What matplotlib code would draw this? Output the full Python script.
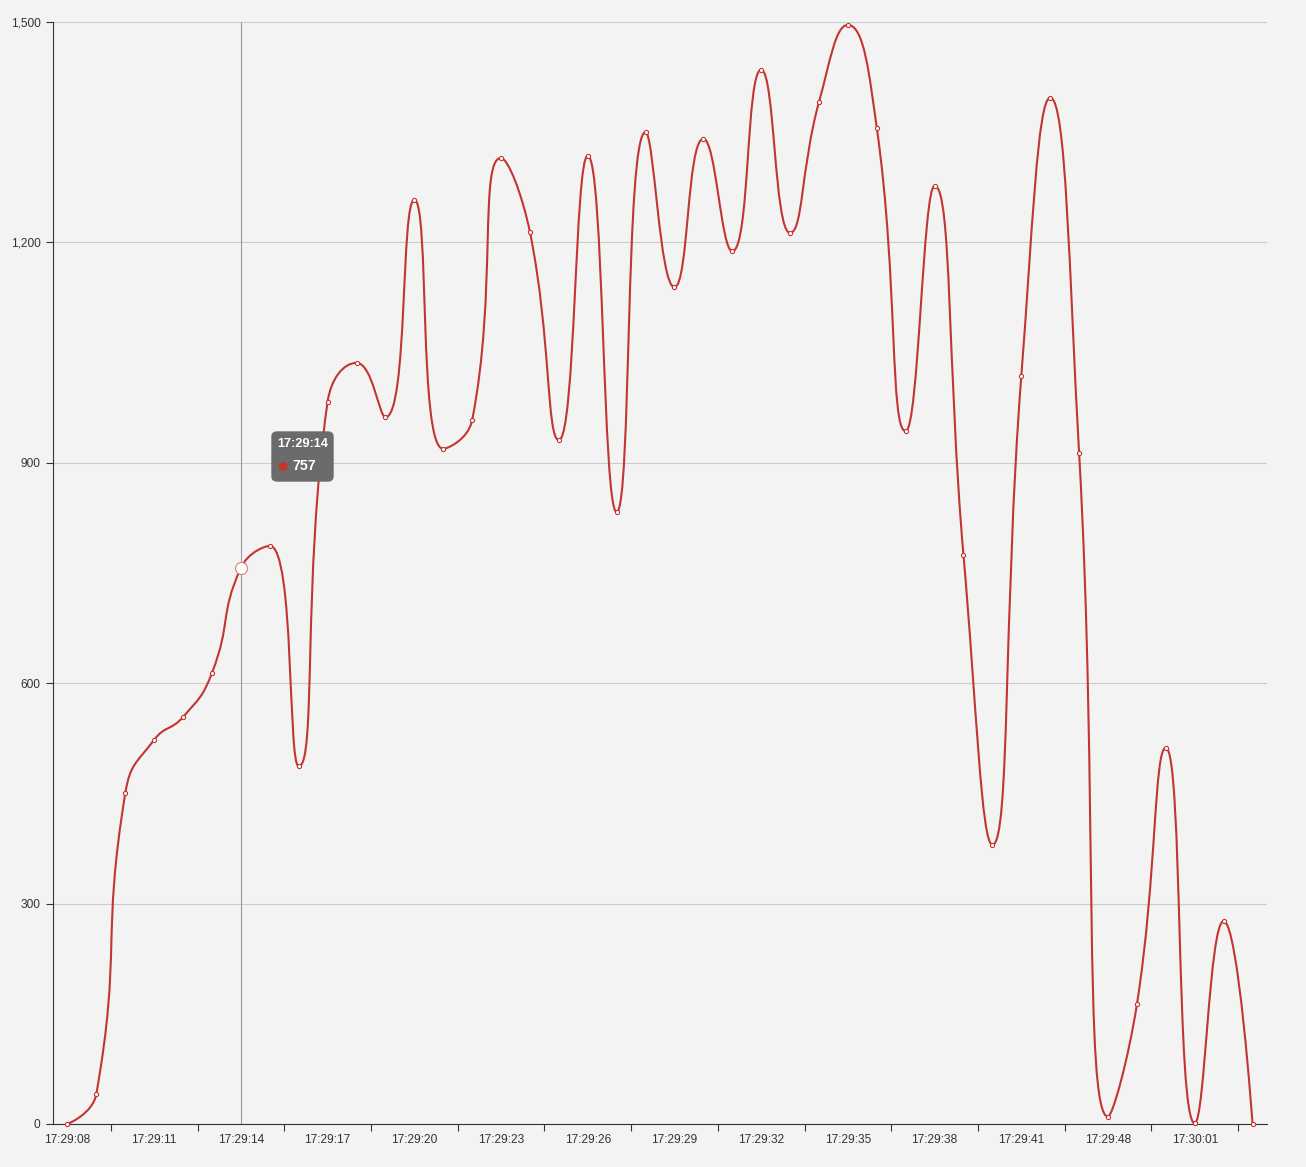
import numpy as np
import matplotlib
matplotlib.use("Agg")
import matplotlib.pyplot as plt
from matplotlib.path import Path
from matplotlib.patches import PathPatch, FancyBboxPatch

OUTPUT_CHART = "out.png"

times = [
    "17:29:08", "17:29:09", "17:29:10", "17:29:11", "17:29:12", "17:29:13",
    "17:29:14", "17:29:15", "17:29:16", "17:29:17", "17:29:18", "17:29:19",
    "17:29:20", "17:29:21", "17:29:22", "17:29:23", "17:29:24", "17:29:25",
    "17:29:26", "17:29:27", "17:29:28", "17:29:29", "17:29:30", "17:29:31",
    "17:29:32", "17:29:33", "17:29:34", "17:29:35", "17:29:36", "17:29:37",
    "17:29:38", "17:29:39", "17:29:40", "17:29:41", "17:29:43", "17:29:45",
    "17:29:48", "17:29:52", "17:29:56", "17:30:01", "17:30:03", "17:30:05",
]
values = [
    0, 41, 450, 523, 554, 614, 757, 787, 487, 983, 1036, 962,
    1258, 919, 958, 1315, 1214, 931, 1318, 833, 1350, 1139, 1341, 1188,
    1435, 1213, 1391, 1496, 1356, 943, 1277, 774, 380, 1018, 1397, 913,
    10, 163, 512, 1, 276, 0,
]
y_ticks = [0, 300, 600, 900, 1200, 1500]
hover_index = 6

LINE_COLOR = "#c23531"
TEXT_COLOR = "#333333"
BG = "#f3f3f3"
W, H = 1306, 1167


def smooth_bezier(pts, smooth=0.5):
    # echarts-style smoothing, done in pixel space
    n = len(pts)
    verts = [tuple(pts[0])]
    codes = [Path.MOVETO]
    cp0 = np.array(pts[0], dtype=float)
    for i in range(1, n):
        p = np.array(pts[i], dtype=float)
        prev = np.array(pts[i - 1], dtype=float)
        if i == n - 1:
            cp1 = p.copy()
            ncp = p.copy()
        else:
            nxt = np.array(pts[i + 1], dtype=float)
            v = nxt - prev
            len_prev = np.hypot(*(p - prev))
            len_next = np.hypot(*(nxt - p))
            ratio = len_next / (len_next + len_prev)
            ncp = p + v * smooth * ratio
            ncp = np.minimum(ncp, np.maximum(nxt, p))
            ncp = np.maximum(ncp, np.minimum(nxt, p))
            v = ncp - p
            cp1 = p - v * len_prev / len_next
            cp1 = np.minimum(cp1, np.maximum(prev, p))
            cp1 = np.maximum(cp1, np.minimum(prev, p))
            v = p - cp1
            ncp = p + v * len_next / len_prev
        verts += [tuple(cp0), tuple(cp1), tuple(p)]
        codes += [Path.CURVE4] * 3
        cp0 = ncp
    return verts, codes


def main():
    fig = plt.figure(figsize=(W / 100, H / 100), dpi=100)
    fig.patch.set_facecolor(BG)
    ax = fig.add_axes([53 / W, (H - 1124) / H, 1214 / W, 1102 / H])
    ax.set_facecolor(BG)

    n = len(values)
    x = np.arange(n)
    ax.set_xlim(-0.5, n - 0.5)
    ax.set_ylim(0, 1500)

    # smooth line built in display coords, then mapped back
    disp = ax.transData.transform(np.column_stack([x, values]))
    verts, codes = smooth_bezier(disp)
    data_verts = ax.transData.inverted().transform(np.array(verts))
    ax.add_patch(PathPatch(Path(data_verts, codes), facecolor="none",
                           edgecolor=LINE_COLOR, linewidth=1.5, zorder=3,
                           clip_on=False))
    ax.scatter(x, values, s=9, facecolor="white", edgecolor=LINE_COLOR,
               linewidth=0.8, zorder=4, clip_on=False)

    # hover state
    ax.axvline(hover_index, color="#999999", linewidth=0.8, zorder=1)
    ax.scatter([hover_index], [values[hover_index]], s=75, facecolor="white",
               edgecolor="#e27c79", linewidth=0.8, zorder=5)

    ax.set_yticks(y_ticks)
    ax.set_yticklabels([f"{v:,}" for v in y_ticks])
    ax.grid(axis="y", color="#cccccc", linewidth=0.8)
    ax.set_axisbelow(True)

    ax.set_xticks(x[::3])
    ax.set_xticklabels(times[::3])
    ax.set_xticks(np.arange(1.5, n, 3), minor=True)
    ax.tick_params(axis="x", which="major", length=0, pad=7,
                   labelsize=8.6, labelcolor=TEXT_COLOR)
    ax.tick_params(axis="x", which="minor", length=5, width=0.8,
                   color=TEXT_COLOR, direction="out")
    ax.tick_params(axis="y", length=5, width=0.8, color=TEXT_COLOR, pad=4,
                   labelsize=8.6, labelcolor=TEXT_COLOR)
    for lab in ax.get_xticklabels() + ax.get_yticklabels():
        lab.set_fontfamily("Liberation Sans")

    for side in ["top", "right"]:
        ax.spines[side].set_visible(False)
    for side in ["left", "bottom"]:
        ax.spines[side].set_color(TEXT_COLOR)
        ax.spines[side].set_linewidth(0.8)

    # tooltip box
    bx, by, bw, bh = 272, 432, 61, 49
    box = FancyBboxPatch((bx / W, (H - by - bh) / H), bw / W, bh / H,
                         boxstyle="round,pad=0,rounding_size=0.004",
                         transform=fig.transFigure, facecolor="#6b6b6b",
                         edgecolor="#6b6b6b", zorder=10)
    fig.patches.append(box)
    fig.text(277 / W, (H - 444) / H, times[hover_index], color="white",
             fontsize=9.2, fontweight="bold", va="center", ha="left",
             family="Liberation Sans", zorder=11)
    fig.text(282 / W, (H - 466) / H, "\u25cf", color=LINE_COLOR, fontsize=8.5,
             va="center", ha="center", family="DejaVu Sans", zorder=11)
    fig.text(292 / W, (H - 466) / H, f"{values[hover_index]:,}",
             color="white", fontsize=10.2, fontweight="bold", va="center",
             ha="left", family="Liberation Sans", zorder=11)

    fig.savefig(OUTPUT_CHART, dpi=100, facecolor=BG)


if __name__ == "__main__":
    main()
